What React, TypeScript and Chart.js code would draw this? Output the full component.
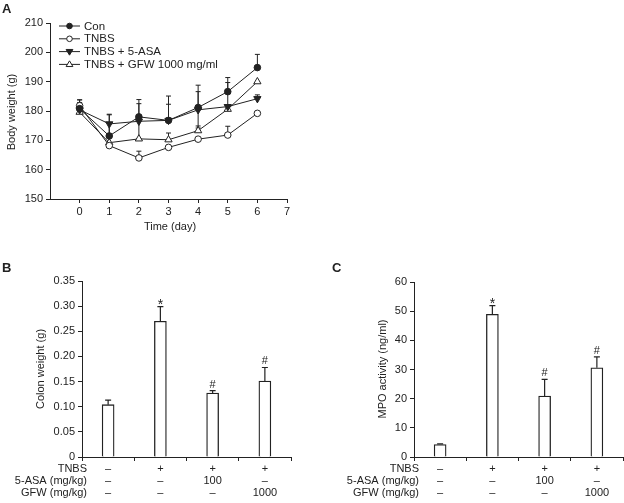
import React, { useEffect, useRef } from 'react';
import { Chart, registerables } from 'chart.js';

Chart.register(...registerables);

const FONT = '"Liberation Sans", Arial, Helvetica, sans-serif';
const INK = '#222222';

// ---------- Panel A: body weight over time ----------
const days = [0, 1, 2, 3, 4, 5, 6];
const conWeight = [180.8, 171.5, 178.0, 176.8, 181.2, 186.6, 194.8];
const conErrUp = [3.0, 7.2, 5.9, 8.3, 7.6, 4.8, 4.5];
const conErrDown = [0, 0, 0, 0, 0, 0, 0];
const tnbsWeight = [181.8, 168.2, 164.0, 167.6, 170.4, 171.8, 179.2];
const tnbsErrUp = [2.0, 0, 2.3, 0, 0, 3.0, 0];
const tnbsErrDown = [0, 0, 0, 0, 0, 0, 0];
const asaWeight = [180.4, 175.6, 176.5, 176.8, 180.4, 181.5, 184.2];
const asaErrUp = [2.5, 3.3, 6.0, 5.5, 6.2, 8.2, 1.3];
const asaErrDown = [0, 3.3, 6.0, 0, 6.2, 0, 0];
const gfwWeight = [179.6, 169.2, 170.5, 170.2, 173.3, 180.6, 190.0];
const gfwErrUp = [1.5, 0, 0, 2.3, 1.6, 0, 0];
const gfwErrDown = [0, 0, 0, 0, 0, 0, 0];
const legendLabels = ['Con', 'TNBS', 'TNBS + 5-ASA', 'TNBS + GFW 1000 mg/ml'];

// ---------- Panels B and C: bar charts ----------
const groupLabels = [
  ['–', '–', '–'],
  ['+', '–', '–'],
  ['+', '100', '–'],
  ['+', '–', '1000'],
];
const rowTitles = ['TNBS', '5-ASA (mg/kg)', 'GFW (mg/kg)'];
const colonWeight = [0.104, 0.270, 0.127, 0.151];
const colonErr = [0.009, 0.029, 0.005, 0.027];
const mpoActivity = [4.3, 48.9, 20.9, 30.6];
const mpoErr = [0.2, 3.0, 5.7, 3.7];
const signif = ['', '*', '#', '#'];

type Txt = { text: string; x: number; y: number; font: string; align?: CanvasTextAlign; base?: CanvasTextBaseline; rot?: number };

const f = (size: number, bold = false) => `${bold ? 'bold ' : ''}${size}px ${FONT}`;

function textPlugin(items: Txt[]) {
  return {
    id: 'txt',
    afterDraw(chart: any) {
      const ctx = chart.ctx;
      items.forEach((t) => {
        ctx.save();
        ctx.font = t.font;
        ctx.fillStyle = INK;
        ctx.textAlign = t.align ?? 'center';
        ctx.textBaseline = t.base ?? 'middle';
        ctx.translate(t.x, t.y);
        if (t.rot) ctx.rotate(t.rot);
        ctx.fillText(t.text, 0, 0);
        ctx.restore();
      });
    },
  };
}

const lineErrPlugin = {
  id: 'lineErr',
  beforeDatasetsDraw(chart: any) {
    const ctx = chart.ctx;
    const ys = chart.scales.y;
    ctx.save();
    ctx.strokeStyle = INK;
    ctx.lineWidth = 1;
    chart.data.datasets.forEach((ds: any, di: number) => {
      const meta = chart.getDatasetMeta(di);
      meta.data.forEach((pt: any, i: number) => {
        const v = ds.data[i].y;
        const up = ds.errUp[i];
        const dn = ds.errDown[i];
        const x = pt.x;
        const cap = 2.5;
        if (up > 0) {
          const yt = ys.getPixelForValue(v + up);
          ctx.beginPath();
          ctx.moveTo(x, pt.y);
          ctx.lineTo(x, yt);
          ctx.moveTo(x - cap, yt);
          ctx.lineTo(x + cap, yt);
          ctx.stroke();
        }
        if (dn > 0) {
          const yb = ys.getPixelForValue(v - dn);
          ctx.beginPath();
          ctx.moveTo(x, pt.y);
          ctx.lineTo(x, yb);
          ctx.moveTo(x - cap, yb);
          ctx.lineTo(x + cap, yb);
          ctx.stroke();
        }
      });
    });
    ctx.restore();
  },
};

const legendPlugin = {
  id: 'legA',
  afterDraw(chart: any) {
    const ctx = chart.ctx;
    const x0 = chart.chartArea.left + 9;
    const y0 = chart.chartArea.top + 3;
    chart.data.datasets.forEach((ds: any, i: number) => {
      const y = y0 + i * 12.8;
      ctx.save();
      ctx.strokeStyle = INK;
      ctx.lineWidth = 1;
      ctx.beginPath();
      ctx.moveTo(x0, y);
      ctx.lineTo(x0 + 21, y);
      ctx.stroke();
      ctx.restore();
      ctx.save();
      const { drawPoint } = (Chart as any).helpers || {};
      ctx.restore();
      ctx.save();
      ctx.fillStyle = ds.pointBackgroundColor;
      ctx.strokeStyle = INK;
      ctx.lineWidth = 1;
      const r = ds.pointRadius;
      const cx = x0 + 10.5;
      if (ds.pointStyle === 'circle') {
        ctx.beginPath();
        ctx.arc(cx, y, r * 0.85, 0, Math.PI * 2);
        ctx.fill();
        ctx.stroke();
      } else {
        const down = ds.pointRotation === 180 ? -1 : 1;
        const s = r * 0.85;
        ctx.beginPath();
        ctx.moveTo(cx, y - down * s);
        ctx.lineTo(cx - s * 0.95, y + down * s * 0.6);
        ctx.lineTo(cx + s * 0.95, y + down * s * 0.6);
        ctx.closePath();
        ctx.fill();
        ctx.stroke();
      }
      ctx.fillStyle = INK;
      ctx.font = f(11.5);
      ctx.textAlign = 'left';
      ctx.textBaseline = 'middle';
      ctx.fillText(legendLabels[i], x0 + 25, y + 0.5);
      ctx.restore();
    });
  },
};

function barExtrasPlugin(errs: number[], marks: string[]) {
  return {
    id: 'barExtras',
    afterDatasetsDraw(chart: any) {
      const ctx = chart.ctx;
      const ys = chart.scales.y;
      const xs = chart.scales.x;
      const meta = chart.getDatasetMeta(0);
      const vals = chart.data.datasets[0].data;
      ctx.save();
      ctx.strokeStyle = INK;
      ctx.lineWidth = 1.2;
      meta.data.forEach((bar: any, i: number) => {
        const yt = ys.getPixelForValue(vals[i] + errs[i]);
        ctx.beginPath();
        ctx.moveTo(bar.x, bar.y);
        ctx.lineTo(bar.x, yt);
        ctx.moveTo(bar.x - 3, yt);
        ctx.lineTo(bar.x + 3, yt);
        ctx.stroke();
        if (marks[i]) {
          ctx.fillStyle = INK;
          ctx.font = f(marks[i] === '*' ? 14 : 11);
          ctx.textAlign = 'center';
          ctx.textBaseline = 'alphabetic';
          ctx.fillText(marks[i], bar.x, yt - (marks[i] === '*' ? -2 : 3));
        }
      });
      // row titles for the treatment table under the axis
      const lh = 12.1;
      const y0 = xs.top + 4 + 2 + lh / 2;
      ctx.fillStyle = INK;
      ctx.font = f(11);
      ctx.textAlign = 'right';
      ctx.textBaseline = 'middle';
      rowTitles.forEach((t, i) => ctx.fillText(t, chart.chartArea.left + 5, y0 + i * lh));
      ctx.restore();
    },
  };
}

const gridOpts = (hide?: (v: number) => boolean) => ({
  display: true,
  drawOnChartArea: false,
  drawTicks: true,
  tickLength: 4,
  lineWidth: 1,
  color: hide ? (c: any) => (c.tick && hide(c.tick.value) ? 'rgba(0,0,0,0)' : INK) : INK,
});
const borderOpts = { display: true, color: INK, width: 1 };

function series(label: string, ys: number[], up: number[], down: number[], style: string, filled: boolean, rot = 0) {
  return {
    label,
    data: days.map((d, i) => ({ x: d, y: ys[i] })),
    errUp: up,
    errDown: down,
    borderColor: INK,
    borderWidth: 1,
    pointStyle: style,
    pointRotation: rot,
    pointRadius: style === 'circle' ? 3.3 : 4.2,
    pointBackgroundColor: filled ? INK : '#ffffff',
    pointBorderColor: INK,
    pointBorderWidth: 1,
    tension: 0,
    fill: false,
  };
}

function configA(): any {
  return {
    type: 'line',
    data: {
      datasets: [
        series('Con', conWeight, conErrUp, conErrDown, 'circle', true),
        series('TNBS', tnbsWeight, tnbsErrUp, tnbsErrDown, 'circle', false),
        series('TNBS + 5-ASA', asaWeight, asaErrUp, asaErrDown, 'triangle', true, 180),
        series('TNBS + GFW 1000 mg/ml', gfwWeight, gfwErrUp, gfwErrDown, 'triangle', false),
      ],
    },
    options: {
      responsive: false,
      animation: false,
      events: [],
      layout: { padding: { left: 10, top: 23, right: 337, bottom: 284 } },
      plugins: { legend: { display: false }, tooltip: { enabled: false } },
      scales: {
        x: {
          type: 'linear',
          min: -1,
          max: 7,
          ticks: {
            stepSize: 1,
            autoSkip: false,
            maxRotation: 0,
            padding: 2,
            color: INK,
            font: { family: FONT, size: 11 },
            callback: (v: number) => (v < 0 ? '' : String(v)),
          },
          grid: gridOpts((v) => v < 0),
          border: borderOpts,
          afterFit: (s: any) => { s.height = 20; },
        },
        y: {
          min: 150,
          max: 210,
          ticks: { stepSize: 10, padding: 3, color: INK, font: { family: FONT, size: 11 } },
          grid: gridOpts(),
          border: borderOpts,
          afterFit: (s: any) => { s.width = 40; },
        },
      },
    },
    plugins: [
      lineErrPlugin,
      legendPlugin,
      textPlugin([
        { text: 'A', x: 2, y: 3, font: f(13, true), align: 'left', base: 'top' },
        { text: 'Body weight (g)', x: 12, y: 112, font: f(11), rot: -Math.PI / 2 },
        { text: 'Time (day)', x: 170, y: 227, font: f(11) },
      ]),
    ],
  };
}

function configBar(values: number[], errs: number[], yMax: number, step: number, fmt: (v: number) => string,
  pad: any, yTitle: string, yTitleX: number, letter: string, letterX: number): any {
  return {
    type: 'bar',
    data: {
      labels: groupLabels,
      datasets: [{
        data: values,
        backgroundColor: '#ffffff',
        borderColor: INK,
        borderWidth: 1.3,
        barThickness: 12,
      }],
    },
    options: {
      responsive: false,
      animation: false,
      events: [],
      layout: { padding: pad },
      plugins: { legend: { display: false }, tooltip: { enabled: false } },
      scales: {
        x: {
          type: 'category',
          offset: true,
          ticks: {
            autoSkip: false,
            maxRotation: 0,
            padding: 2,
            color: INK,
            font: { family: FONT, size: 11, lineHeight: 1.1 },
          },
          grid: { ...gridOpts(), offset: true },
          border: borderOpts,
          afterFit: (s: any) => { s.height = 46; },
        },
        y: {
          min: 0,
          max: yMax,
          ticks: { stepSize: step, padding: 3, color: INK, font: { family: FONT, size: 11 }, callback: fmt },
          grid: gridOpts(),
          border: borderOpts,
          afterFit: (s: any) => { s.width = 44; },
        },
      },
    },
    plugins: [
      barExtrasPlugin(errs, signif),
      textPlugin([
        { text: letter, x: letterX, y: 262, font: f(13, true), align: 'left', base: 'top' },
        { text: yTitle, x: yTitleX, y: 369, font: f(11), rot: -Math.PI / 2 },
      ]),
    ],
  };
}

export default function App() {
  const aRef = useRef<HTMLCanvasElement>(null);
  const bRef = useRef<HTMLCanvasElement>(null);
  const cRef = useRef<HTMLCanvasElement>(null);

  useEffect(() => {
    const charts = [
      new Chart(aRef.current as HTMLCanvasElement, configA()),
      new Chart(bRef.current as HTMLCanvasElement, configBar(colonWeight, colonErr, 0.35, 0.05,
        (v: number) => (Math.abs(v) < 1e-9 ? '0' : Number(v).toFixed(2)),
        { left: 38, top: 281, right: 333, bottom: 0 }, 'Colon weight (g)', 41, 'B', 2)),
      new Chart(cRef.current as HTMLCanvasElement, configBar(mpoActivity, mpoErr, 60, 10,
        (v: number) => String(Math.round(v)),
        { left: 370, top: 282, right: 1, bottom: 0 }, 'MPO activity (ng/ml)', 383, 'C', 332)),
    ];
    return () => charts.forEach((c) => c.destroy());
  }, []);

  const cs: React.CSSProperties = { position: 'absolute', left: 0, top: 0, width: 624, height: 503 };
  return (
    <div style={{ position: 'absolute', left: 0, top: 0, width: 624, height: 503, background: '#ffffff', overflow: 'hidden' }}>
      <canvas ref={aRef} width={624} height={503} style={cs} />
      <canvas ref={bRef} width={624} height={503} style={cs} />
      <canvas ref={cRef} width={624} height={503} style={cs} />
    </div>
  );
}
